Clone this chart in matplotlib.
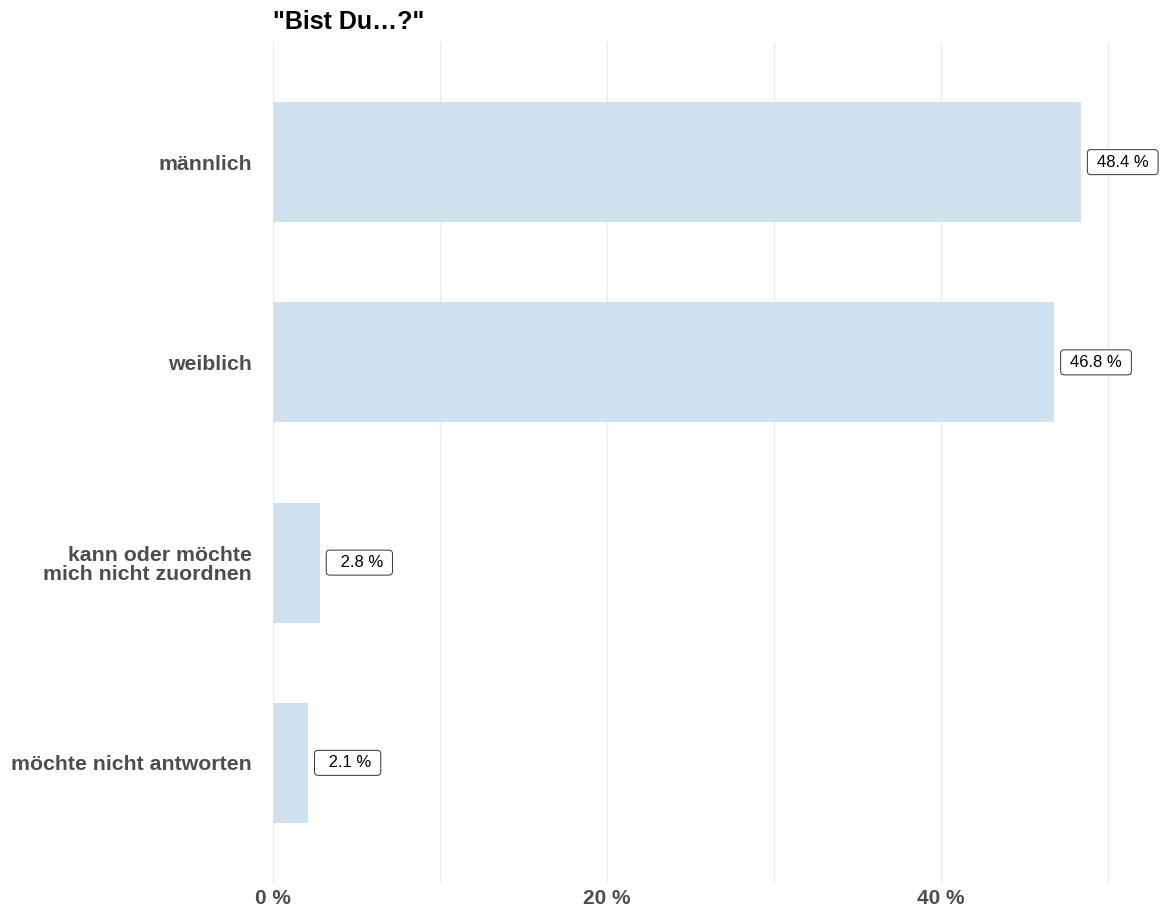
import matplotlib
matplotlib.use("Agg")
import matplotlib.pyplot as plt
from matplotlib.patches import BoxStyle

plt.rcParams['font.family'] = ['Liberation Sans', 'DejaVu Sans']

# data
categories = ["männlich", "weiblich", "kann oder möchte\nmich nicht zuordnen", "möchte nicht antworten"]
values = [48.4, 46.8, 2.8, 2.1]
labels = ["48.4 %", "46.8 %", " 2.8 %", " 2.1 %"]
xticks = [0, 20, 40]
xticklabels = ["0 %", "20 %", "40 %"]


# label box with separate horizontal / vertical padding (like geom_label)
def label_box(x0, y0, width, height, mutation_size):
    padx, pady = 9.5, 5.0
    return BoxStyle.Round(pad=0, rounding_size=0.22)(
        x0 - padx, y0 - pady, width + 2 * padx, height + 2 * pady, mutation_size)


fig = plt.figure(figsize=(11.61, 9.09), dpi=100)
ax = fig.add_axes([273 / 1161, 26 / 909, 888 / 1161, 841 / 909])

ypos = list(range(len(categories)))[::-1]
ax.barh(ypos, values, height=0.6, color='#cfe1ef', zorder=2)

for y, v, lab in zip(ypos, values, labels):
    ax.annotate(lab, xy=(v, y), xytext=(11.5, 0), textcoords='offset points',
                ha='left', va='center', fontsize=12, color='black', zorder=3,
                bbox=dict(boxstyle=label_box, fc='white', ec='#333333', lw=0.7))

ax.set_xlim(0, 53.2)
ax.set_ylim(-0.6, 3.6)
ax.set_xticks(xticks)
ax.set_xticklabels(xticklabels, fontsize=15, fontweight='bold', color='#4d4d4d')
for g in range(0, 60, 10):
    ax.axvline(g, color='#ebebeb', lw=1, zorder=1)
ax.set_yticks(ypos)
ax.set_yticklabels(categories, fontsize=15.3, fontweight='bold', color='#4d4d4d', linespacing=1.05)
ax.tick_params(length=0)
ax.tick_params(axis='y', pad=15)
ax.tick_params(axis='x', pad=4)
for s in ax.spines.values():
    s.set_visible(False)

fig.text(273 / 1161, 1 - 22 / 909, '"Bist Du…?"', fontsize=18, fontweight='bold',
         ha='left', va='center', color='black')

fig.savefig("out.png", dpi=100)
